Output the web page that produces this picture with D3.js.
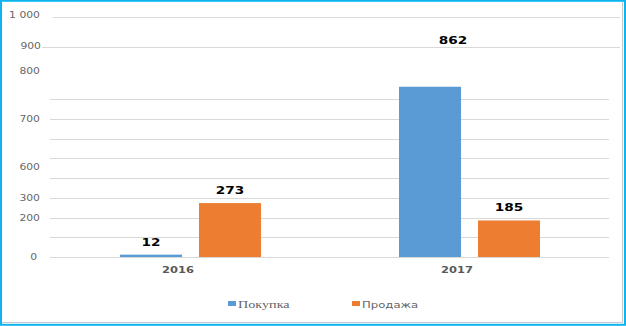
<!DOCTYPE html>
<html><head><meta charset="utf-8">
<script src="https://cdn.jsdelivr.net/npm/d3@7"></script>
<style>html,body{margin:0;padding:0;background:#fff;}svg{display:block;}</style>
</head><body>
<script>
// ---- data ----
const categories = ["2016", "2017"];
const seriesNames = ["Покупка", "Продажа"];
const purchase = [12, 862];
const sales = [273, 185];
const gridValues = [0, 100, 200, 300, 400, 500, 600, 700, 800, 900, 1000];
const tickLabels = ["0", "200", "300", "600", "700", "800", "900", "1 000"];
const tickLabelValues = [0, 200, 300, 455, 700, 854, 904, 1007];

const colors = ["#5b9bd5", "#ed7d31"];
const W = 626, H = 326;
const svg = d3.select("body").append("svg").attr("width", W).attr("height", H);

// frame
svg.append("rect").attr("x", 0).attr("y", 0).attr("width", W).attr("height", H).attr("fill", "#fff");
svg.append("line").attr("x1", 622.5).attr("x2", 622.5).attr("y1", 2).attr("y2", 323).attr("stroke", "#c8c8c8").attr("stroke-width", 1);
svg.append("line").attr("x1", 2).attr("x2", 623).attr("y1", 322.5).attr("y2", 322.5).attr("stroke", "#c8c8c8").attr("stroke-width", 1);
svg.append("rect").attr("x", 1).attr("y", 0.8).attr("width", 624).attr("height", 324).attr("fill", "none")
  .attr("stroke", "#0fb4ee").attr("stroke-width", 2);

const plotL = 51, plotR = 609, y0 = 257;
const x = d3.scaleBand().domain(categories).range([plotL, plotR]);
const xs = d3.scaleBand().domain(seriesNames).range([0, 141]).paddingInner(0.215);
const yBar = d3.scaleLinear().domain([0, 800]).range([y0, 99]);
const yAxis = d3.scaleLinear().domain([0, 800, 900, 1000]).range([y0, 99, 47, 17]);

// gridlines
svg.append("g").selectAll("line").data(gridValues).join("line")
  .attr("x1", d => d === 1000 ? 53 : d === 900 ? 42 : 50)
  .attr("x2", d => d > 800 ? 620 : plotR)
  .attr("y1", d => Math.round(yAxis(d)) + 0.5)
  .attr("y2", d => Math.round(yAxis(d)) + 0.5)
  .attr("stroke", "#d9d9d9").attr("stroke-width", 1);

// y labels
const sx = 1.35;
svg.append("g").selectAll("text").data(tickLabels).join("text")
  .attr("transform", (d, i) => `translate(${d === "0" ? 37 : d === "900" ? 41 : 40},${yAxis(tickLabelValues[i]) + 3}) scale(${sx},1)`)
  .attr("text-anchor", "end")
  .attr("font-family", "DejaVu Sans").attr("font-size", 8).attr("fill", "#666")
  .text(d => d);

// bars
const rows = categories.map((c, i) => ({ c, vals: [purchase[i], sales[i]] }));
const groups = svg.append("g").selectAll("g").data(rows).join("g")
  .attr("transform", d => `translate(${x(d.c) + (x.bandwidth() - 141) / 2},0)`);
groups.selectAll("rect").data(d => d.vals.map((v, j) => ({ v, s: seriesNames[j], j, c: d.c }))).join("rect")
  .attr("x", d => xs(d.s)).attr("width", xs.bandwidth())
  .attr("y", d => yBar(d.v)).attr("height", d => y0 - yBar(d.v))
  .attr("fill", d => colors[d.j]);

// data labels (the over-range value sits just above the 900 grid line, shifted right)
groups.selectAll("text").data(d => d.vals.map((v, j) => ({ v, s: seriesNames[j], j, c: d.c }))).join("text")
  .attr("transform", d => {
    const over = d.v > 800;
    const cx = xs(d.s) + xs.bandwidth() / 2 + (over ? 23 : 0);
    const cy = over ? yAxis(900) - 3 : yBar(d.v) - 9;
    return `translate(${cx},${cy}) scale(1.3,1)`;
  })
  .attr("text-anchor", "middle")
  .attr("font-family", "DejaVu Sans").attr("font-weight", "bold").attr("font-size", 10.5)
  .attr("fill", "#000").text(d => d.v);

// category labels
svg.append("g").selectAll("text").data(categories).join("text")
  .attr("transform", d => `translate(${x(d) + x.bandwidth() / 2 - 12.5},273) scale(1.35,1)`)
  .attr("text-anchor", "middle")
  .attr("font-family", "DejaVu Sans").attr("font-weight", "bold").attr("font-size", 8.5)
  .attr("fill", "#595959").text(d => d);

// legend
const legX = [228, 352];
const legFonts = ["Liberation Serif", "DejaVu Sans"];
const leg = svg.append("g").selectAll("g").data(seriesNames).join("g")
  .attr("transform", (d, i) => `translate(${legX[i]},301)`);
leg.append("rect").attr("width", 8).attr("height", 5).attr("fill", (d, i) => colors[i]);
leg.append("text")
  .attr("transform", (d, i) => `translate(10,6.5) scale(${i === 0 ? 1.35 : 1.3},1)`)
  .attr("font-family", (d, i) => legFonts[i]).attr("font-size", (d, i) => i === 0 ? 10.5 : 9)
  .attr("fill", "#666").text(d => d);
</script>
</body></html>
